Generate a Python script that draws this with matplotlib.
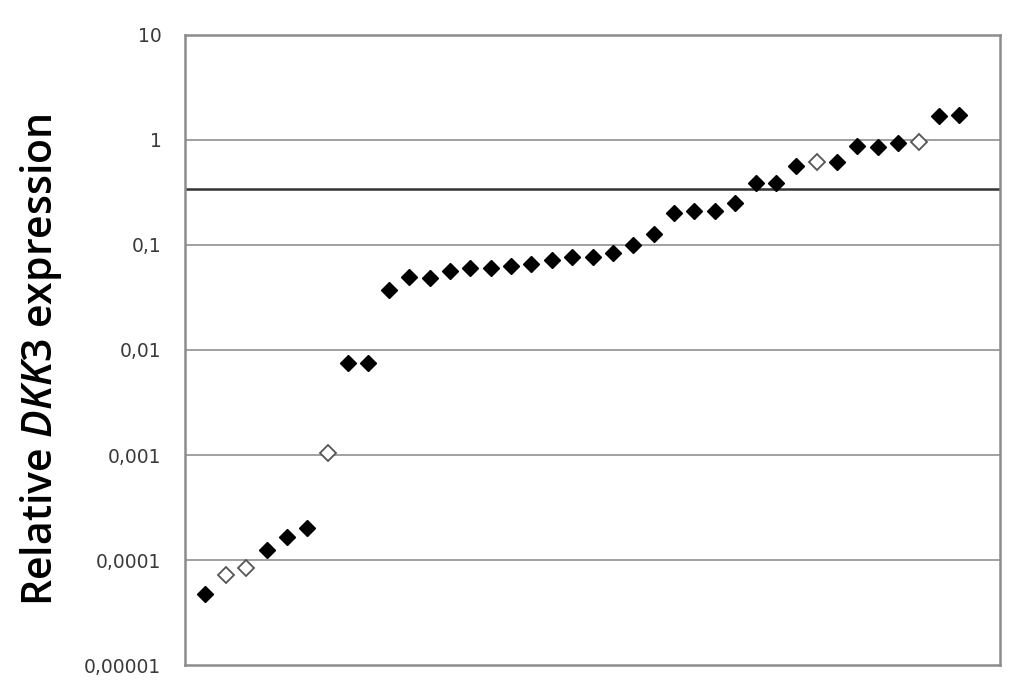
import matplotlib.pyplot as plt
import numpy as np

# relative DKK3 expression per sample, sorted low -> high
expression = [4.7e-5, 7.2e-5, 8.4e-5, 1.24e-4, 1.66e-4, 2.0e-4, 1.04e-3,
              7.5e-3, 7.5e-3, 0.037, 0.0496, 0.048, 0.0565, 0.060, 0.060,
              0.063, 0.066, 0.072, 0.077, 0.077, 0.084, 0.100, 0.127,
              0.202, 0.211, 0.211, 0.251, 0.389, 0.389, 0.565, 0.617,
              0.617, 0.877, 0.86, 0.936, 0.957, 1.69, 1.73]
# True = open diamond
open_marker = [False, True, True, False, False, False, True,
               False, False, False, False, False, False, False, False,
               False, False, False, False, False, False, False, False,
               False, False, False, False, False, False, False, True,
               False, False, False, False, True, False, False]
cutoff = 0.34
tick_vals = [1e-5, 1e-4, 1e-3, 1e-2, 1e-1, 1, 10]
tick_labels = ["0,00001", "0,0001", "0,001", "0,01", "0,1", "1", "10"]

plt.rcParams['mathtext.fontset'] = 'custom'
plt.rcParams['mathtext.it'] = 'Open Sans:italic:semibold'
plt.rcParams['mathtext.rm'] = 'Open Sans:semibold'

fig = plt.figure(figsize=(10.24, 6.97), dpi=100)
ax = fig.add_axes([0.1807, 0.0459, 0.7959, 0.9039])

x = np.arange(1, len(expression) + 1)
y = np.array(expression)
mask = np.array(open_marker)

ax.set_yscale('log')
ax.set_ylim(1e-5, 10)
ax.set_xlim(0, 40)

for v in tick_vals[1:-1]:
    ax.axhline(v, color='#999999', linewidth=1.3, zorder=1)
ax.axhline(cutoff, color='#333333', linewidth=1.8, zorder=1)

ax.plot(x[~mask], y[~mask], linestyle='none', marker='D', markersize=8,
        color='black', zorder=3)
ax.plot(x[mask], y[mask], linestyle='none', marker='D', markersize=8,
        markerfacecolor='white', markeredgecolor='#555555',
        markeredgewidth=1.3, zorder=3)

ax.set_yticks(tick_vals)
ax.set_yticklabels(tick_labels, fontsize=13.5, color='#3a3a3a',
                   family='DejaVu Sans')
ax.yaxis.set_minor_locator(plt.NullLocator())
ax.tick_params(axis='y', length=0, pad=17)
ax.set_xticks([])

for s in ax.spines.values():
    s.set_color('#8c8c8c')
    s.set_linewidth(1.8)

ax.set_ylabel(r'Relative $\mathit{DKK3}$ expression', fontsize=29.5,
              family='Open Sans', weight='semibold')
ax.yaxis.set_label_coords(-0.148, 0.485)

fig.savefig('out.png', dpi=100)
